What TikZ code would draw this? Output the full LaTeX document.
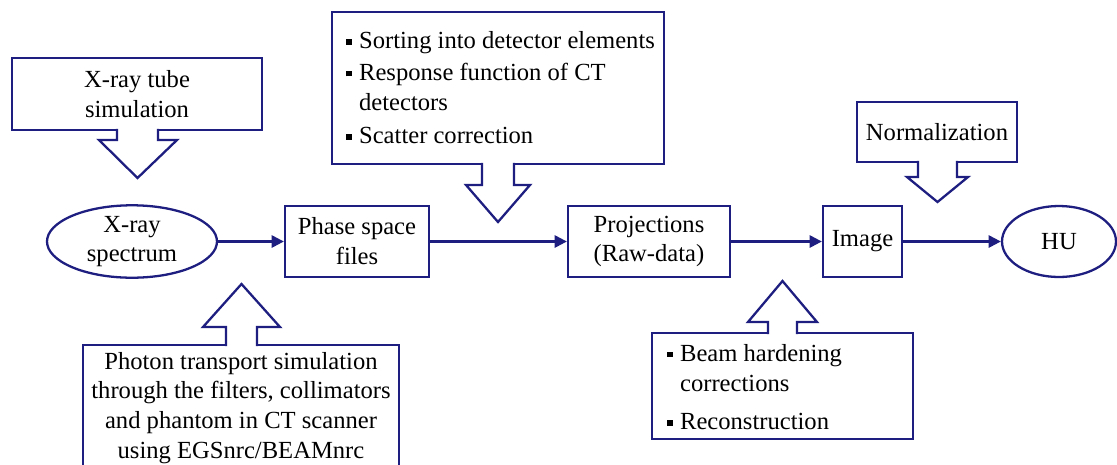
\documentclass[tikz,border=0pt]{standalone}
\usepackage{fontspec}
\setmainfont{Liberation Serif}
\usetikzlibrary{arrows.meta,shapes.geometric}
\definecolor{flownavy}{RGB}{30,30,128}
\newcommand{\sqbullet}{\rule[0.17em]{0.22em}{0.22em}\hspace{0.3em}}
\tikzset{
  stagebox/.style={draw=flownavy, line width=1.3pt, fill=white, inner sep=0pt, align=center},
  stageoval/.style={stagebox, ellipse},
  notebox/.style={draw=flownavy, line width=1.3pt, inner sep=0pt},
  flowline/.style={draw=flownavy, line width=1.3pt, -{Triangle[length=7pt,width=7pt]}},
  blockarrow/.style={draw=flownavy, line width=1.3pt, fill=white, line join=miter}
}
\begin{document}
\begin{tikzpicture}[x=0.02cm, y=-0.02cm, font=\fontsize{14}{17}\selectfont]
      \useasboundingbox (0,0) rectangle (1117,464);

      % Main chain
      \node[stageoval, minimum width=170*0.02cm, minimum height=72*0.02cm] (spectrum) at (132,241.5) {X-ray\\spectrum};
      \node[stagebox, minimum width=144*0.02cm, minimum height=71*0.02cm] (phase) at (357,241.5) {Phase space\\files};
      \node[stagebox, minimum width=162*0.02cm, minimum height=71*0.02cm] (proj) at (649,241.5) {Projections\\(Raw-data)};
      \node[stagebox, minimum width=79*0.02cm, minimum height=71*0.02cm] (image) at (862.5,241.5) {Image};
      \node[stageoval, minimum width=114*0.02cm, minimum height=71*0.02cm] (hu) at (1059,241.5) {HU};

      \draw[flowline] (spectrum) -- (phase);
      \draw[flowline] (phase) -- (proj);
      \draw[flowline] (proj) -- (image);
      \draw[flowline] (image) -- (hu);

      % Note boxes
      \node[notebox, align=center, minimum width=250*0.02cm, minimum height=72*0.02cm] (tube) at (137,94) {X-ray tube\\simulation};
      \node[notebox, minimum width=332*0.02cm, minimum height=152*0.02cm] (detect) at (498,88) {};
      \node[anchor=west, align=left, inner sep=0pt] (detecttext) at (346,88) {%
\sqbullet Sorting into detector elements\\[1pt]
\sqbullet Response function of CT\\
\phantom{\sqbullet}detectors\\[2pt]
\sqbullet Scatter correction};
      \node[notebox, align=center, minimum width=160*0.02cm, minimum height=60*0.02cm] (norm) at (937,132) {Normalization};
      \node[notebox, minimum width=316*0.02cm, minimum height=133*0.02cm] (photon) at (241,411.5) {};
      \node[align=center, inner sep=0pt] (photontext) at (241,408) {Photon transport simulation\\through the filters, collimators\\and phantom in CT scanner\\using EGSnrc/BEAMnrc};
      \node[notebox, minimum width=261*0.02cm, minimum height=106*0.02cm] (beam) at (782.5,386) {};
      \node[anchor=west, align=left, inner sep=0pt] (beamtext) at (667,387) {%
\sqbullet Beam hardening\\
\phantom{\sqbullet}corrections\\[5pt]
\sqbullet Reconstruction};

      % Block arrows
      \draw[blockarrow] (117,128.8) -- (117,140) -- (99,140) -- (137.5,178) -- (177,140) -- (158,140) -- (158,128.8);
      \draw[blockarrow] (482,162.8) -- (482,185) -- (466,185) -- (498,222) -- (530,185) -- (514,185) -- (514,162.8);
      \draw[blockarrow] (918,160.8) -- (918,177) -- (907,177) -- (937.5,202) -- (968,177) -- (957,177) -- (957,160.8);
      \draw[blockarrow] (226,346.2) -- (226,327) -- (203,327) -- (241.5,284) -- (280,327) -- (257,327) -- (257,346.2);
      \draw[blockarrow] (768,334.2) -- (768,322) -- (748,322) -- (782.5,281) -- (817,322) -- (797,322) -- (797,334.2);

    \end{tikzpicture}
\end{document}
